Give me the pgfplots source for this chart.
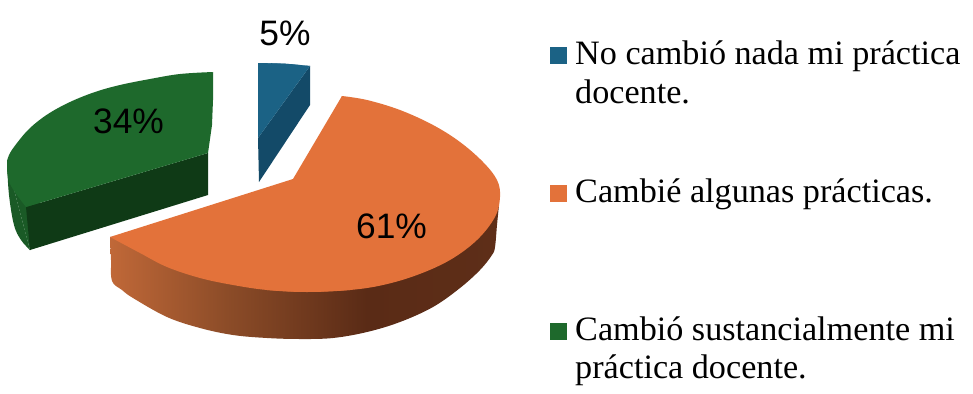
\documentclass[border=0pt]{standalone}
\usepackage{pgfplots}
\pgfplotsset{compat=1.18}
\usepackage{fontspec}
\setmainfont{Liberation Serif}
\newfontfamily\lab{Liberation Sans}
\definecolor{gtop}{HTML}{1E692C}
\definecolor{gside}{HTML}{1A5A26}
\definecolor{gdark}{HTML}{0F3A16}
\definecolor{btop}{HTML}{1B6285}
\definecolor{bdark}{HTML}{134A68}
\definecolor{otop}{HTML}{E3723A}
\definecolor{osA}{HTML}{C06838}
\definecolor{osB}{HTML}{8C4C28}
\definecolor{osC}{HTML}{5A2B16}
\definecolor{osD}{HTML}{5E2E18}
\pgfdeclarehorizontalshading{orangeside}{100bp}{
 color(0bp)=(osA);
 color(25bp)=(osA);
 color(40bp)=(osB);
 color(58bp)=(osC);
 color(75bp)=(osD);
 color(100bp)=(osD)}
\newcommand{\legtext}[1]{\fontsize{34.3}{34.3}\selectfont #1}
\newcommand{\pct}[1]{\fontsize{35.5}{35.5}\selectfont\lab #1}
\begin{document}
\begin{tikzpicture}
\begin{axis}[
 width=973bp,height=394bp,scale only axis,
 xmin=0,xmax=973,ymin=0,ymax=394,y dir=reverse,
 hide axis,clip=false,no markers]
% canvas
\addplot[fill=white,draw=none] coordinates {(0,0)(973,0)(973,394)(0,394)};
% green outer side
\addplot[fill=gside,draw=none,smooth,tension=0.6] coordinates {(7,163)(9,195)(14,225)(21,240)(30,250)};
\addplot[fill=gside,draw=none] coordinates {(7,163)(30,250)(40,200)};
% green cut face
\addplot[fill=gdark,draw=none] coordinates {(26,207)(208,153)(208,195)(30,250)};
% green top
\addplot[fill=gtop,draw=none,smooth,tension=0.6] coordinates {(213,72)(180,74)(150,79)(120,85)(95,92)(70,102)(48,114)(30,128)(17,143)(9,155)(7,165)(10,184)(26,207)};
\addplot[fill=gtop,draw=none] coordinates {(213,72)(213,100)(212,125)(208,153)(26,207)(100,130)};
% blue
\addplot[fill=bdark,draw=none] coordinates {(310,66)(310,105)(259,182)(258,138)};
\addplot[fill=btop,draw=none,smooth,tension=0.6] coordinates {(258,63)(285,63.7)(310,66)};
\addplot[fill=btop,draw=none] coordinates {(258,63)(285,63.7)(310,66)(258,138)};
% orange side
\addplot[draw=none,shade,shading=orangeside,smooth,tension=0.6] coordinates {(110,237)(111,260)(112,281)(122,290)(133,298)(167,317)(200,328)(233,335)(267,338)(300,339)(333,338)(367,332)(400,322)(433,307)(460,288)(480,270)(492,255)(495,247)(497,225)(499,205)};
% orange top
\addplot[fill=otop,draw=none,smooth,tension=0.6] coordinates {(342,96)(367,100)(400,110)(433,125)(460,142)(483,162)(497,180)(500,197)(495,217)(477,240)(450,260)(417,275)(383,285)(350,290)(307,292)(267,290)};
\addplot[fill=otop,draw=none,smooth,tension=0.6] coordinates {(350,290)(307,292)(267,290)(233,285)(200,278)(167,267)(140,253)(110,237)};
\addplot[fill=otop,draw=none] coordinates {(342,96)(293,179)(110,237)(267,285)(320,280)};
% legend keys
\addplot[fill=btop,draw=none] coordinates {(550,47)(567,47)(567,64)(550,64)};
\addplot[fill=otop,draw=none] coordinates {(550,185)(567,185)(567,202)(550,202)};
\addplot[fill=gtop,draw=none] coordinates {(550,323)(567,323)(567,340)(550,340)};
% labels
\node[anchor=base,inner sep=0pt] at (axis cs:285,45) {\pct{5\%}};
\node[anchor=base,inner sep=0pt] at (axis cs:128.5,133) {\pct{34\%}};
\node[anchor=base,inner sep=0pt] at (axis cs:391.5,238) {\pct{61\%}};
% legend text
\node[anchor=base west,inner sep=0pt] at (axis cs:575,64) {\legtext{No cambió nada mi práctica}};
\node[anchor=base west,inner sep=0pt] at (axis cs:575,103) {\legtext{docente.}};
\node[anchor=base west,inner sep=0pt] at (axis cs:575,202) {\legtext{Cambié algunas prácticas.}};
\node[anchor=base west,inner sep=0pt] at (axis cs:575,340) {\legtext{Cambió sustancialmente mi}};
\node[anchor=base west,inner sep=0pt] at (axis cs:575,378) {\legtext{práctica docente.}};
\end{axis}
\end{tikzpicture}
\end{document}
